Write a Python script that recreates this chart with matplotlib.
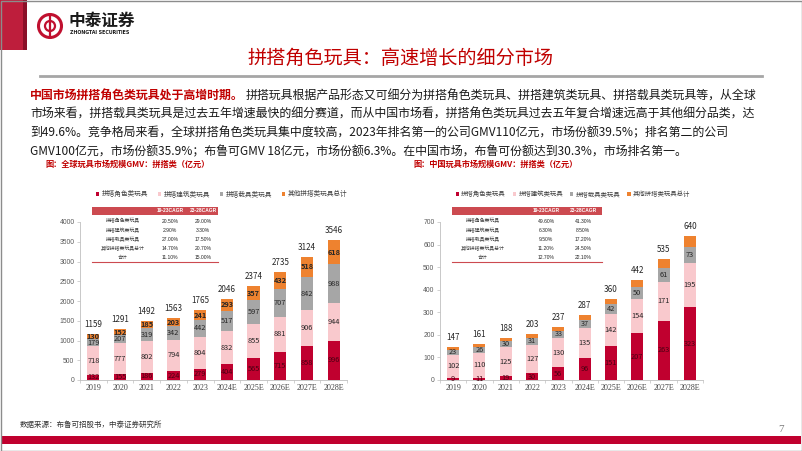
import numpy as np
import matplotlib
matplotlib.use("Agg")
import matplotlib.pyplot as plt
from matplotlib.patches import Rectangle, Circle
from matplotlib.lines import Line2D

plt.rcParams['font.family'] = ['Noto Sans CJK SC', 'DejaVu Sans']

years = ["2019", "2020", "2021", "2022", "2023", "2024E", "2025E", "2026E", "2027E", "2028E"]
series_names = ["拼搭角色类玩具", "拼搭建筑类玩具", "拼搭载具类玩具", "其他拼搭类玩具总计"]

# 全球 (亿元)
world_role = [132, 155, 186, 224, 279, 404, 565, 715, 858, 996]
world_build = [718, 777, 802, 794, 804, 832, 855, 881, 906, 944]
world_vehicle = [179, 207, 319, 342, 442, 517, 597, 707, 842, 988]
world_other = [130, 152, 185, 203, 241, 293, 357, 432, 518, 618]
world_total = [1159, 1291, 1492, 1563, 1765, 2046, 2374, 2735, 3124, 3546]

# 中国 (亿元)
china_role = [9, 11, 19, 30, 56, 96, 151, 207, 263, 323]
china_build = [102, 110, 125, 127, 130, 135, 142, 154, 171, 195]
china_vehicle = [23, 26, 30, 31, 33, 37, 42, 50, 61, 73]
china_other = [13, 14, 14, 15, 18, 19, 25, 31, 40, 49]
china_total = [147, 161, 188, 203, 237, 287, 360, 442, 535, 640]

table_rows = ["拼搭角色类玩具", "拼搭建筑类玩具", "拼搭载具类玩具", "其他拼搭类玩具总计", "合计"]
table_cols = ["19-23CAGR", "23-28CAGR"]
world_cagr_a = ["20.50%", "2.90%", "27.00%", "14.70%", "11.10%"]
world_cagr_b = ["29.00%", "3.30%", "17.50%", "20.70%", "15.00%"]
china_cagr_a = ["49.60%", "6.30%", "9.50%", "11.20%", "12.70%"]
china_cagr_b = ["41.30%", "8.50%", "17.20%", "24.50%", "22.10%"]

colors = ["#C0002F", "#F9C9CD", "#A6A6A6", "#EE822F"]
RED = "#C00000"

W, H = 802, 451
fig = plt.figure(figsize=(W / 100, H / 100), dpi=100)
tr = fig.dpi_scale_trans


def P(x, y):
    return x / 100, (H - y) / 100


def T(x, y, s, **kw):
    return fig.text(*P(x, y), s, transform=tr, **kw)


def rect(x0, y0, x1, y1, **kw):
    fig.patches.append(Rectangle(P(x0, y1), (x1 - x0) / 100, (y1 - y0) / 100, transform=tr, **kw))


def hline(x0, x1, y, **kw):
    fig.add_artist(Line2D([x0 / 100, x1 / 100], [(H - y) / 100] * 2, transform=tr, **kw))


# ---- slide decoration ----
rect(0, 0, 27, 50, color="#BE1E3C", lw=0)
rect(23, 0, 27, 50, color="#8B1028", lw=0)
fig.patches.append(Circle(P(50, 26), 0.115, transform=tr, fill=False, ec="#C0102F", lw=2.2))
fig.patches.append(Circle(P(50, 26), 0.05, transform=tr, fill=False, ec="#C0102F", lw=1.6))
fig.add_artist(Line2D([0.50, 0.50], [(H - 17) / 100, (H - 35) / 100], transform=tr, color="#C0102F", lw=1.6))
T(69, 21, "中泰证券", fontsize=12, fontweight="bold", color="#1a1a1a", va="center")
T(70, 33, "ZHONGTAI SECURITIES", fontsize=3.4, fontweight="bold", color="#1a1a1a", va="center",
  family="DejaVu Sans")

T(401, 58, "拼搭角色玩具：高速增长的细分市场", fontsize=13.8, color=RED, ha="center", va="center")
hline(40, 762, 76, color="#A6A6A6", lw=2)

# paragraph
renderer = fig.canvas.get_renderer()
red_part = T(30, 96, "中国市场拼搭角色类玩具处于高增时期。", fontsize=8.6, color=RED,
             fontweight="bold", va="center")
bb = red_part.get_window_extent(renderer)
fig.text(bb.x1 / 100 + 0.02, (H - 96) / 100,
         "拼搭玩具根据产品形态又可细分为拼搭角色类玩具、拼搭建筑类玩具、拼搭载具类玩具等，从全球",
         transform=tr, fontsize=8.6, color="#1a1a1a", va="center")
body = [
    "市场来看，拼搭载具类玩具是过去五年增速最快的细分赛道，而从中国市场看，拼搭角色类玩具过去五年复合增速远高于其他细分品类，达",
    "到49.6%。竞争格局来看，全球拼搭角色类玩具集中度较高，2023年排名第一的公司GMV110亿元，市场份额39.5%；排名第二的公司",
    "GMV100亿元，市场份额35.9%；布鲁可GMV 18亿元，市场份额6.3%。在中国市场，布鲁可份额达到30.3%，市场排名第一。",
]
for i, line in enumerate(body):
    T(30, 114.5 + 18.5 * i, line, fontsize=8.6, color="#1a1a1a", va="center")

T(45, 164, "图：全球玩具市场规模GMV：拼搭类（亿元）", fontsize=5.9, color=RED, fontweight="bold", va="center")
T(413, 164, "图：中国玩具市场规模GMV：拼搭类（亿元）", fontsize=5.9, color=RED, fontweight="bold", va="center")

T(20, 425, "数据来源：布鲁可招股书，中泰证券研究所", fontsize=5.4, color="#333333", va="center")
T(778, 430, "7", fontsize=8, color="#7f7f7f", va="center", family="Liberation Serif")
rect(1, 436, 801, 444, color="#C0002E", lw=0)
fig.patches.append(Rectangle((0.005, 0.005), (W - 1) / 100, (H - 1) / 100, transform=tr,
                             fill=False, ec="#8c8c8c", lw=1))


# ---- charts ----
def stacked(ax, layers, totals, ymax, step, other_labels):
    x = np.arange(len(years))
    base = np.zeros(len(years))
    bars = []
    for name, vals, col in zip(series_names, layers, colors):
        b = ax.bar(x, vals, 0.46, bottom=base, color=col, label=name, zorder=2, lw=0)
        bars.append(b)
        base = base + np.array(vals)
    ax.bar_label(bars[0], labels=[str(v) for v in layers[0]], label_type="center",
                 fontsize=5.3, color="#4a0012")
    ax.bar_label(bars[1], labels=[str(v) for v in layers[1]], label_type="center",
                 fontsize=5.3, color="#262626")
    ax.bar_label(bars[2], labels=[str(v) for v in layers[2]], label_type="center",
                 fontsize=5.3, color="#262626")
    if other_labels:
        ax.bar_label(bars[3], labels=[str(v) for v in layers[3]], label_type="center",
                     fontsize=5.3, color="#262626", fontweight="bold")
    ax.bar_label(bars[3], labels=[str(v) for v in totals], padding=3.5, fontsize=5.8, color="#262626")

    ax.set_xlim(-0.5, len(years) - 0.5)
    ax.set_ylim(0, ymax)
    ax.set_yticks(np.arange(0, ymax + 1, step))
    ax.set_xticks(x)
    ax.set_xticklabels(years, fontsize=5.8, family="Liberation Serif", color="#404040")
    ax.set_xticks(np.arange(-0.5, len(years)), minor=True)
    ax.tick_params(axis="x", which="major", length=0, pad=3)
    ax.tick_params(axis="x", which="minor", length=2, color="#BFBFBF", width=0.5)
    ax.tick_params(axis="y", length=2, color="#BFBFBF", width=0.5, labelsize=4.9,
                   labelcolor="#595959", pad=2)
    for lab in ax.get_yticklabels():
        lab.set_family("Liberation Sans")
    for s in ["top", "right"]:
        ax.spines[s].set_visible(False)
    for s in ["left", "bottom"]:
        ax.spines[s].set_color("#BFBFBF")
        ax.spines[s].set_linewidth(0.6)
    return bars


ax1 = fig.add_axes([80 / W, 1 - 380 / H, 267 / W, 158 / H])
stacked(ax1, [world_role, world_build, world_vehicle, world_other], world_total, 4000, 500, True)
ax1.legend(loc="center", bbox_to_anchor=(93 / 100, (H - 199) / 100, 257 / 100, 10 / 100),
           bbox_transform=tr, mode="expand", ncol=4, frameon=False, fontsize=4.8,
           handlelength=0.5, handleheight=0.5, handletextpad=0.4, borderaxespad=0,
           labelcolor="#404040")

ax2 = fig.add_axes([440 / W, 1 - 380 / H, 263 / W, 158 / H])
stacked(ax2, [china_role, china_build, china_vehicle, china_other], china_total, 700, 100, False)
ax2.legend(loc="center", bbox_to_anchor=(453 / 100, (H - 199) / 100, 240 / 100, 10 / 100),
           bbox_transform=tr, mode="expand", ncol=4, frameon=False, fontsize=4.6,
           handlelength=0.5, handleheight=0.5, handletextpad=0.4, borderaxespad=0,
           labelcolor="#404040")


def cagr_table(x0, x1, xl, xa, xb, col_a, col_b):
    rect(x0, 207, x1, 215, color="#CC4A50", lw=0)
    T(xa, 211, table_cols[0], fontsize=3.5, color="white", fontweight="bold", ha="center",
      va="center", family="Liberation Sans")
    T(xb, 211, table_cols[1], fontsize=3.5, color="white", fontweight="bold", ha="center",
      va="center", family="Liberation Sans")
    for i, name in enumerate(table_rows):
        y = 221 + 9.2 * i
        T(xl, y, name, fontsize=3.5, color="#404040", ha="center", va="center")
        T(xa, y, col_a[i], fontsize=3.6, color="#262626", ha="center", va="center",
          family="Liberation Sans")
        T(xb, y, col_b[i], fontsize=3.6, color="#262626", ha="center", va="center",
          family="Liberation Sans")
    hline(x0, x1, 262, color="#CC4A50", lw=0.8)


cagr_table(92, 218, 123, 170, 203, world_cagr_a, world_cagr_b)
cagr_table(452, 602, 483, 546, 583, china_cagr_a, china_cagr_b)

fig.savefig("out.png", dpi=100)
